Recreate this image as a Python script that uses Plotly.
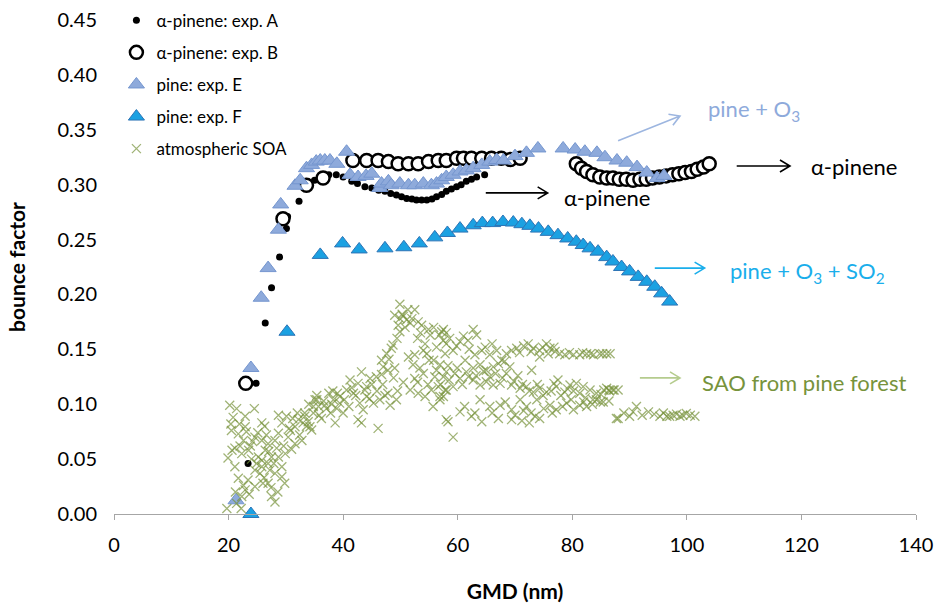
import plotly.graph_objects as go

# ---------------- data ----------------
a_x = [23.4, 24.8, 26.4, 27.5, 28.9, 30.1, 30.3, 32.3, 33.5, 35.0, 36.2, 37.5, 38.8, 40.0, 41.5, 42.5,
       43.8, 45.0, 46.2, 47.3, 48.3, 49.3, 50.2, 51.1, 52.0, 52.8, 53.7, 54.6, 55.5, 56.3, 57.2, 58.0,
       58.9, 59.8, 60.6, 61.5, 62.4, 63.3, 64.7]
a_y = [0.046, 0.119, 0.174, 0.206, 0.234, 0.260, 0.271, 0.285, 0.297, 0.304, 0.307, 0.309, 0.309, 0.307,
       0.303, 0.301, 0.298, 0.297, 0.295, 0.294, 0.292, 0.2905, 0.289, 0.2875, 0.287, 0.286, 0.286, 0.286,
       0.287, 0.289, 0.291, 0.294, 0.296, 0.298, 0.300, 0.303, 0.305, 0.307, 0.309]

b_x = [23.0, 29.5, 33.6, 36.5, 41.7, 44.1, 46.1, 47.9, 49.6, 51.4, 53.1, 54.9, 56.6, 58.0, 59.8, 61.0,
       62.4, 64.2, 65.9, 67.6, 69.2, 70.9, 80.7, 81.6, 82.5, 83.6, 84.8, 86.0, 87.1, 88.2, 89.4, 90.6,
       91.8, 92.9, 94.0, 95.2, 96.4, 97.5, 98.6, 99.7, 100.8, 101.8, 102.9, 103.9]
b_y = [0.119, 0.269, 0.2995, 0.306, 0.322, 0.322, 0.322, 0.321, 0.319, 0.319, 0.319, 0.321, 0.322, 0.322,
       0.324, 0.324, 0.324, 0.324, 0.324, 0.324, 0.323, 0.324, 0.319, 0.315, 0.312, 0.309, 0.307, 0.306,
       0.306, 0.305, 0.305, 0.304, 0.305, 0.305, 0.306, 0.307, 0.308, 0.309, 0.310, 0.311, 0.312, 0.314,
       0.316, 0.319]

e_x = [21.3, 23.9, 25.7, 26.9, 28.7, 29.1, 31.6, 32.5, 33.6, 34.5, 35.3, 36.0, 36.8, 37.7, 38.9, 40.6,
       41.2, 42.6, 44.0, 45.0, 46.4, 46.7, 47.9, 48.4, 49.9, 51.4, 52.5, 54.0, 55.4, 56.3, 57.2, 58.0,
       59.2, 60.4, 61.5, 62.7, 64.2, 65.6, 66.8, 68.0, 70.0, 72.0, 74.0, 78.4, 80.5, 82.2, 84.3, 85.7,
       87.8, 89.5, 91.3, 93.0, 94.8, 96.0]
e_y = [0.0125, 0.133, 0.197, 0.224, 0.259, 0.282, 0.299, 0.304, 0.315, 0.318, 0.321, 0.322, 0.322, 0.322,
       0.319, 0.330, 0.309, 0.307, 0.308, 0.310, 0.297, 0.301, 0.303, 0.2995, 0.301, 0.2995, 0.2995, 0.301,
       0.2995, 0.301, 0.304, 0.307, 0.309, 0.312, 0.313, 0.315, 0.318, 0.321, 0.3225, 0.322, 0.326, 0.329,
       0.333, 0.333, 0.332, 0.330, 0.329, 0.325, 0.322, 0.320, 0.316, 0.311, 0.306, 0.308]

f_x = [23.9, 30.2, 36.0, 39.9, 42.8, 47.3, 50.6, 53.3, 56.0, 58.2, 60.4, 62.7, 64.3, 66.1, 67.9, 69.7,
       71.2, 72.6, 74.1, 75.8, 77.5, 79.2, 80.7, 81.9, 83.1, 84.5, 86.0, 87.1, 88.6, 90.0, 91.5, 93.0,
       94.4, 95.6, 97.0]
f_y = [0.0, 0.166, 0.236, 0.2465, 0.241, 0.242, 0.243, 0.2465, 0.252, 0.256, 0.260, 0.263, 0.265, 0.265,
       0.266, 0.2655, 0.264, 0.2625, 0.260, 0.257, 0.254, 0.251, 0.248, 0.245, 0.242, 0.239, 0.234, 0.230,
       0.225, 0.221, 0.216, 0.2115, 0.207, 0.201, 0.1935]

# atmospheric SOA, read in regions (x in nm, y bounce factor)
soa_left_x = [20.2, 21.4, 22.9, 24.5, 25.8, 20.5, 21.7, 22.6, 19.9, 21.1, 21.7, 22.6, 22.9, 22.3, 23.4, 24.6,
              25.8, 26.4, 26.9, 28.1, 28.7, 29.3, 28.7, 30.1, 31.6, 32.2, 33.3, 34.5, 35.1, 35.7, 25.8, 26.9,
              28.1, 29.3, 29.8, 27.5, 28.1, 26.9, 24.6, 21.4, 21.1, 22.3, 22.9, 25.2, 27.5, 28.7, 29.3, 30.4,
              31.6, 32.8, 33.9, 34.8, 35.4, 25.8, 26.6, 24.6, 19.7, 20.4, 23.8, 27.0, 30.8,
              20.8, 21.9, 23.1, 22.0, 23.5, 24.0, 24.9, 25.5, 26.2, 27.2, 27.9, 28.4, 29.6, 30.6, 31.2, 32.4,
              33.6, 27.4, 28.6, 26.0, 23.6, 22.2, 21.2, 20.6, 24.2, 25.1, 26.3, 29.9, 31.0, 32.0, 34.0, 35.8,
              36.6, 37.5, 38.2]
soa_left_y = [0.099, 0.096, 0.089, 0.096, 0.083, 0.076, 0.073, 0.067, 0.051, 0.043, 0.0325, 0.026, 0.022, 0.016,
              0.031, 0.040, 0.049, 0.058, 0.064, 0.067, 0.0735, 0.083, 0.090, 0.089, 0.0795, 0.086, 0.092, 0.0765,
              0.104, 0.098, 0.043, 0.046, 0.037, 0.034, 0.028, 0.016, 0.011, 0.028, 0.025, 0.0097, 0.060, 0.055,
              0.0795, 0.052, 0.052, 0.052, 0.043, 0.070, 0.064, 0.067, 0.084, 0.092, 0.108, 0.067, 0.072, 0.070,
              0.005, 0.082, 0.062, 0.057, 0.076,
              0.088, 0.082, 0.075, 0.062, 0.058, 0.050, 0.046, 0.037, 0.033, 0.040, 0.046, 0.060, 0.062, 0.078,
              0.087, 0.072, 0.080, 0.024, 0.020, 0.028, 0.018, 0.005, 0.020, 0.058, 0.066, 0.074, 0.080, 0.055,
              0.059, 0.092, 0.100, 0.090, 0.103, 0.110, 0.112]

soa_mid_x = [49.9, 52.5, 49.0, 49.9, 51.1, 51.7, 49.6, 49.9, 53.1, 53.7, 54.9, 55.2, 54.3, 54.0, 54.6, 57.2,
             57.5, 58.0, 56.3, 48.7, 48.4, 51.4, 52.5, 52.2, 53.4, 54.0, 52.5, 51.7, 53.1, 54.3, 55.7, 55.4,
             56.6, 56.3, 57.5, 58.0, 56.9, 58.0, 46.7, 49.0, 47.0, 46.7, 45.8, 44.7, 43.2, 42.6, 41.2, 44.1,
             47.3, 46.4, 48.2, 49.3, 45.3, 44.1, 42.9, 43.5, 41.8, 40.6, 39.4, 39.4, 38.9, 40.0, 38.3, 37.1,
             36.2, 35.4, 34.8, 33.3, 34.2, 33.0, 42.6, 43.2, 46.1, 38.6, 50.5, 55.8, 53.0,
             36.8, 37.8, 38.0, 39.0, 40.2, 41.0, 41.5, 42.2, 43.8, 44.6, 45.0, 45.9, 46.9, 47.8, 48.0, 48.8,
             47.6, 49.4, 50.3, 50.8, 51.3, 52.0, 53.5, 55.8, 56.8, 57.8, 55.0, 53.0, 56.0, 54.8, 57.0, 58.3,
             50.5, 49.5, 47.8]
soa_mid_y = [0.191, 0.186, 0.181, 0.178, 0.177, 0.174, 0.172, 0.166, 0.175, 0.172, 0.168, 0.163, 0.155, 0.149,
             0.146, 0.166, 0.158, 0.155, 0.152, 0.154, 0.151, 0.143, 0.145, 0.136, 0.133, 0.128, 0.1235, 0.113,
             0.110, 0.107, 0.098, 0.113, 0.116, 0.131, 0.125, 0.113, 0.107, 0.086, 0.140, 0.133, 0.134, 0.127,
             0.125, 0.1235, 0.1295, 0.119, 0.122, 0.116, 0.108, 0.104, 0.099, 0.104, 0.101, 0.107, 0.101, 0.095,
             0.110, 0.113, 0.107, 0.101, 0.096, 0.092, 0.104, 0.096, 0.087, 0.104, 0.098, 0.089, 0.0795, 0.083,
             0.086, 0.083, 0.078, 0.083, 0.180, 0.140, 0.160,
             0.099, 0.092, 0.100, 0.110, 0.104, 0.098, 0.115, 0.108, 0.113, 0.105, 0.118, 0.112, 0.118, 0.131,
             0.141, 0.124, 0.146, 0.160, 0.182, 0.170, 0.186, 0.178, 0.165, 0.170, 0.163, 0.146, 0.140, 0.120,
             0.125, 0.118, 0.118, 0.135, 0.120, 0.112, 0.110]

soa_right_x = [57.5, 58.6, 60.4, 62.7, 63.3, 61.8, 59.2, 61.3, 64.2, 65.6, 66.8, 67.7, 69.4, 70.3, 72.3, 73.2,
               74.3, 75.5, 76.1, 77.0, 77.8, 78.7, 80.2, 81.3, 82.5, 83.7, 84.8, 86.0, 86.6, 74.3,
               56.9, 58.0, 59.5, 60.4, 59.2, 57.8, 57.5, 61.5, 62.7, 63.9, 65.0, 66.2, 67.1, 68.2, 69.1, 68.5,
               62.7, 63.9, 65.0, 66.2, 67.4, 69.4, 70.9, 72.0, 73.2, 74.3, 75.5, 77.5, 77.2, 78.7, 79.6, 80.7,
               81.9, 83.1, 84.2, 86.0, 87.1, 72.9,
               56.9, 60.4, 58.3, 59.2, 62.4, 64.2, 63.9, 65.6, 67.1, 67.4, 69.4, 69.4, 70.9, 72.0, 73.5, 74.3,
               73.8, 76.1, 77.2, 79.0, 80.2, 81.3, 82.5, 84.2, 85.4, 87.7,
               88.0, 90.0, 91.2, 93.3, 95.3, 96.5, 97.6, 98.8, 99.9, 101.4, 85.5, 86.4, 84.9,
               58.0, 59.8, 61.0, 62.0, 63.0, 64.8, 66.0, 68.5, 70.8, 71.5, 72.8, 74.8, 75.8, 76.8, 79.5, 81.8,
               83.2, 85.3,
               58.5, 59.9, 60.8, 61.9, 63.2, 64.5, 65.6, 66.6, 67.8, 69.8, 70.5, 71.3, 72.5, 73.9, 74.9, 76.3,
               76.8, 78.0, 79.2, 80.2, 81.3, 82.3, 83.6, 85.0, 86.5, 87.3, 88.0,
               61.2, 63.0, 66.0, 68.3, 70.0, 71.5, 72.8, 75.0, 76.5, 78.3, 79.8, 82.0, 83.5, 86.4, 72.5, 71.2,
               89.0, 90.6, 92.2, 94.3, 95.9, 97.0, 98.2, 99.3, 100.6]
soa_right_y = [0.168, 0.160, 0.157, 0.168, 0.163, 0.158, 0.149, 0.140, 0.149, 0.145, 0.149, 0.140, 0.149, 0.151,
               0.155, 0.151, 0.149, 0.155, 0.151, 0.148, 0.146, 0.145, 0.145, 0.145, 0.146, 0.145, 0.146, 0.146,
               0.146, 0.143,
               0.136, 0.1295, 0.128, 0.1235, 0.116, 0.113, 0.107, 0.1295, 0.133, 0.136, 0.131, 0.134, 0.137, 0.139,
               0.134, 0.128, 0.122, 0.1175, 0.1205, 0.1175, 0.119, 0.1175, 0.1145, 0.116, 0.111, 0.1145, 0.111,
               0.122, 0.116, 0.111, 0.1175, 0.119, 0.116, 0.113, 0.110, 0.1145, 0.113, 0.131,
               0.104, 0.093, 0.084, 0.070, 0.089, 0.084, 0.104, 0.098, 0.087, 0.099, 0.086, 0.095, 0.104, 0.098,
               0.089, 0.087, 0.104, 0.099, 0.095, 0.101, 0.095, 0.099, 0.098, 0.104, 0.102, 0.087,
               0.087, 0.089, 0.098, 0.093, 0.089, 0.089, 0.090, 0.089, 0.0915, 0.089, 0.113, 0.113, 0.102,
               0.165, 0.153, 0.162, 0.150, 0.145, 0.152, 0.155, 0.146, 0.147, 0.153, 0.148, 0.152, 0.146, 0.152,
               0.147, 0.147, 0.146, 0.146,
               0.122, 0.133, 0.118, 0.125, 0.126, 0.130, 0.125, 0.128, 0.124, 0.121, 0.126, 0.118, 0.112, 0.118,
               0.108, 0.112, 0.119, 0.108, 0.114, 0.112, 0.110, 0.106, 0.104, 0.109, 0.112, 0.113, 0.113,
               0.098, 0.092, 0.092, 0.102, 0.090, 0.094, 0.092, 0.096, 0.092, 0.098, 0.104, 0.102, 0.100, 0.103,
               0.083, 0.085,
               0.092, 0.093, 0.090, 0.091, 0.092, 0.089, 0.091, 0.090, 0.090]

soa_x = soa_left_x + soa_mid_x + soa_right_x
soa_y = soa_left_y + soa_mid_y + soa_right_y

x_ticks = [0, 20, 40, 60, 80, 100, 120, 140]
y_ticks = [0.00, 0.05, 0.10, 0.15, 0.20, 0.25, 0.30, 0.35, 0.40, 0.45]

# ---------------- figure ----------------
W, H = 934, 603
ML, MR, MT, MB = 114, 18, 20, 89
X_RANGE = (0, 140)
Y_RANGE = (0, 0.45)
PX_X = (W - ML - MR) / (X_RANGE[1] - X_RANGE[0])
PX_Y = (H - MT - MB) / (Y_RANGE[1] - Y_RANGE[0])

FONT = "Lato, 'Open Sans', sans-serif"

fig = go.Figure()
fig.add_trace(go.Scatter(x=a_x, y=a_y, mode="markers", name="α-pinene: exp. A", legendgroup="a",
                         marker=dict(symbol="circle", size=7, color="black"), cliponaxis=False))
fig.add_trace(go.Scatter(x=b_x, y=b_y, mode="markers", name="α-pinene: exp. B", legendgroup="b",
                         marker=dict(symbol="circle", size=13, color="white",
                                     line=dict(color="black", width=2.5)), cliponaxis=False))
fig.add_trace(go.Scatter(x=e_x, y=e_y, mode="markers", name="pine: exp. E", legendgroup="e",
                         marker=dict(symbol="triangle-up", size=14, color="#8EAADB",
                                     line=dict(color="#7596CF", width=1)), cliponaxis=False))
fig.add_trace(go.Scatter(x=f_x, y=f_y, mode="markers", name="pine: exp. F", legendgroup="f",
                         marker=dict(symbol="triangle-up", size=14, color="#1BA1E2",
                                     line=dict(color="#2E75B6", width=1)), cliponaxis=False))
fig.add_trace(go.Scatter(x=soa_x, y=soa_y, mode="markers", name="atmospheric SOA", legendgroup="s",
                         marker=dict(symbol="x-thin", size=9, color="rgba(0,0,0,0)",
                                     line=dict(color="rgba(119,147,60,0.7)", width=1.3)),
                         cliponaxis=False))


def arrow(x0, y0, x1, y1, color, width=1.6, head=10, spread=6):
    dxp = (x1 - x0) * PX_X
    dyp = (y1 - y0) * PX_Y
    L = (dxp ** 2 + dyp ** 2) ** 0.5
    ux, uy = dxp / L, dyp / L
    nx, ny = -uy, ux
    hx1 = x1 + (-ux * head + nx * spread) / PX_X
    hy1 = y1 + (-uy * head + ny * spread) / PX_Y
    hx2 = x1 + (-ux * head - nx * spread) / PX_X
    hy2 = y1 + (-uy * head - ny * spread) / PX_Y
    path = f"M {x0},{y0} L {x1},{y1} M {hx1},{hy1} L {x1},{y1} L {hx2},{hy2}"
    fig.add_shape(type="path", path=path, xref="x", yref="y",
                  line=dict(color=color, width=width))


arrow(88.0, 0.340, 98.8, 0.3625, "#9DB6E0")
arrow(108.7, 0.317, 118.0, 0.317, "black")
arrow(64.9, 0.2925, 75.7, 0.2925, "black")
arrow(94.4, 0.224, 103.1, 0.224, "#1AAEEB")
arrow(91.8, 0.124, 98.8, 0.124, "#B5CC8E")

ann_font = dict(family=FONT, size=22)
fig.add_annotation(x=103.3, y=0.368, text="pine + O<sub>3</sub>", showarrow=False, xanchor="left",
                   font=dict(ann_font, color="#8EAADB"))
fig.add_annotation(x=121.3, y=0.317, text="α-pinene", showarrow=False, xanchor="left",
                   font=dict(ann_font, color="black"))
fig.add_annotation(x=78.2, y=0.288, text="α-pinene", showarrow=False, xanchor="left",
                   font=dict(ann_font, color="black"))
fig.add_annotation(x=107.2, y=0.220, text="pine + O<sub>3</sub> + SO<sub>2</sub>", showarrow=False,
                   xanchor="left", font=dict(ann_font, color="#1AAEEB"))
fig.add_annotation(x=102.3, y=0.120, text="SAO from pine forest", showarrow=False, xanchor="left",
                   font=dict(ann_font, color="#77933C"))

fig.update_layout(
    width=W, height=H,
    margin=dict(l=ML, r=MR, t=MT, b=MB, pad=0, autoexpand=False),
    paper_bgcolor="white", plot_bgcolor="white",
    font=dict(family=FONT, color="black"),
    showlegend=True,
    legend=dict(x=0.003, y=1.035, xanchor="left", yanchor="top", bgcolor="rgba(0,0,0,0)",
                font=dict(family=FONT, size=17, color="black"),
                traceorder="grouped", tracegroupgap=7, itemwidth=30),
    xaxis=dict(range=list(X_RANGE), tickmode="array", tickvals=x_ticks,
               ticktext=[str(t) for t in x_ticks], automargin=False,
               showgrid=False, zeroline=False, showline=True, linecolor="#A6A6A6", linewidth=1,
               ticks="outside", ticklen=5, tickcolor="#A6A6A6", ticklabelstandoff=8,
               tickfont=dict(family=FONT, size=20, color="black"),
               title=dict(text="<b>GMD (nm)</b>", font=dict(family=FONT, size=21, color="black"),
                          standoff=30)),
    yaxis=dict(range=list(Y_RANGE), tickmode="array", tickvals=y_ticks,
               ticktext=[f"{t:.2f}" for t in y_ticks], automargin=False,
               showgrid=False, zeroline=False, showline=False, ticks="",
               ticklabelstandoff=16,
               tickfont=dict(family=FONT, size=20, color="black"),
               title=dict(text="<b>bounce factor</b>", font=dict(family=FONT, size=21, color="black"),
                          standoff=26)),
)

fig.write_html("out.html")
